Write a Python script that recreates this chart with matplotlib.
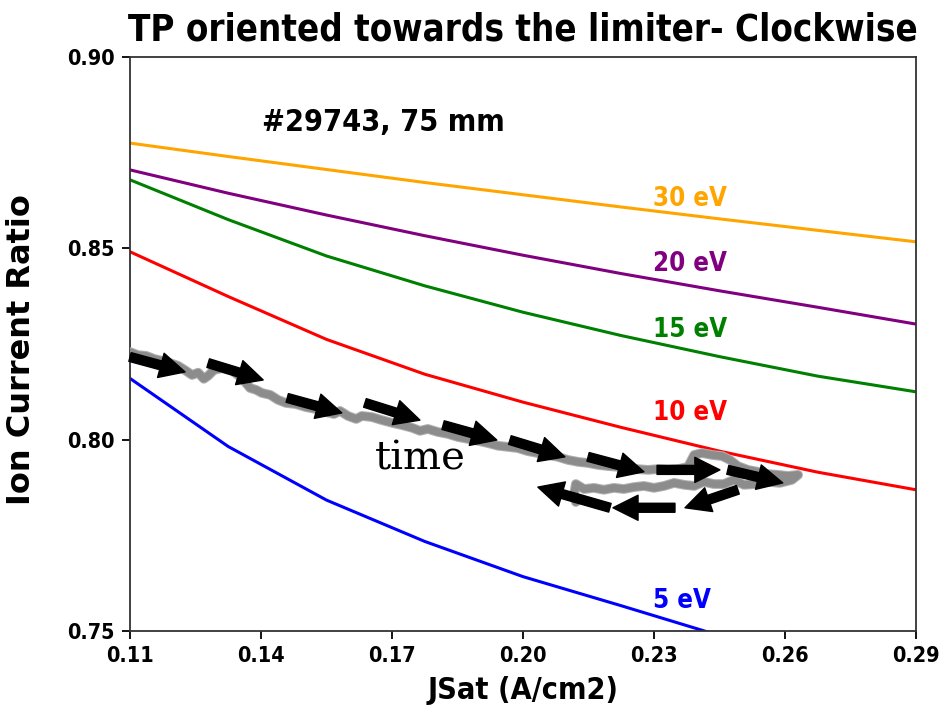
import numpy as np
import matplotlib
matplotlib.use('Agg')
from matplotlib import pyplot as plt

# model curves, sampled on the JSat grid
jsat = [0.11, 0.1325, 0.155, 0.1775, 0.20, 0.2225, 0.245, 0.2675, 0.29]
ratio_30 = [0.8775, 0.8740, 0.8706, 0.8672, 0.8640, 0.8608, 0.8577, 0.8547, 0.8517]
ratio_20 = [0.8705, 0.8644, 0.8587, 0.8533, 0.8482, 0.8434, 0.8389, 0.8346, 0.8302]
ratio_15 = [0.8679, 0.8575, 0.8480, 0.8402, 0.8333, 0.8272, 0.8217, 0.8166, 0.8125]
ratio_10 = [0.8491, 0.8374, 0.8262, 0.8171, 0.8098, 0.8032, 0.7970, 0.7915, 0.7869]
ratio_5 = [0.8160, 0.7982, 0.7842, 0.7734, 0.7642, 0.7566, 0.7488, 0.7420, 0.7360]

curve_labels = ['30 eV', '20 eV', '15 eV', '10 eV', '5 eV']
curve_colors = ['orange', 'purple', 'green', 'red', 'blue']
label_x = 0.2298
label_y = [0.8629, 0.8459, 0.8287, 0.8070, 0.7579]

# measured trace (shot #29743)
trace_x = [0.1100, 0.1118, 0.1137, 0.1155, 0.1173, 0.1192, 0.1210, 0.1228, 0.1242, 0.1256,
           0.1269, 0.1279, 0.1292, 0.1311, 0.1334, 0.1356, 0.1375, 0.1389, 0.1402, 0.1421,
           0.1439, 0.1457, 0.1480, 0.1503, 0.1526, 0.1549, 0.1567, 0.1581, 0.1599, 0.1618,
           0.1631, 0.1654, 0.1677, 0.1700, 0.1723, 0.1746, 0.1764, 0.1782, 0.1805, 0.1828,
           0.1851, 0.1874, 0.1897, 0.1920, 0.1943, 0.1966, 0.1988, 0.2011, 0.2034, 0.2057,
           0.2080, 0.2103, 0.2126, 0.2149, 0.2172, 0.2195, 0.2217, 0.2240, 0.2263, 0.2286,
           0.2309, 0.2332, 0.2355, 0.2378, 0.2392, 0.2410, 0.2433, 0.2456, 0.2474, 0.2492,
           0.2515, 0.2538, 0.2561, 0.2584, 0.2607, 0.2630, 0.2616,
           0.2588, 0.2561, 0.2533, 0.2506, 0.2483, 0.2460, 0.2437, 0.2414, 0.2392, 0.2369,
           0.2346, 0.2323, 0.2300, 0.2277, 0.2254, 0.2231, 0.2208, 0.2185, 0.2163, 0.2140,
           0.2121, 0.2117, 0.2121]
trace_y = [0.8229, 0.8221, 0.8219, 0.8211, 0.8206, 0.8200, 0.8193, 0.8180, 0.8169, 0.8175,
           0.8159, 0.8167, 0.8182, 0.8187, 0.8180, 0.8161, 0.8135, 0.8130, 0.8122, 0.8117,
           0.8104, 0.8096, 0.8093, 0.8085, 0.8080, 0.8072, 0.8067, 0.8075, 0.8062, 0.8054,
           0.8062, 0.8059, 0.8051, 0.8044, 0.8038, 0.8031, 0.8023, 0.8028, 0.8020, 0.8015,
           0.8007, 0.8002, 0.7997, 0.7991, 0.7984, 0.7981, 0.7978, 0.7970, 0.7965, 0.7960,
           0.7955, 0.7947, 0.7942, 0.7939, 0.7934, 0.7931, 0.7929, 0.7923, 0.7923, 0.7921,
           0.7923, 0.7921, 0.7923, 0.7929, 0.7960, 0.7965, 0.7960, 0.7957, 0.7947, 0.7931,
           0.7921, 0.7916, 0.7910, 0.7908, 0.7905, 0.7908, 0.7895,
           0.7887, 0.7890, 0.7884, 0.7882, 0.7895, 0.7884, 0.7884, 0.7890, 0.7879, 0.7882,
           0.7887, 0.7879, 0.7874, 0.7879, 0.7876, 0.7871, 0.7874, 0.7869, 0.7874, 0.7871,
           0.7884, 0.7858, 0.7837]

# time arrows: (x0, y0, x1, y1)
arrows = [
    (0.1100, 0.8216, 0.1226, 0.8177),
    (0.1279, 0.8200, 0.1405, 0.8156),
    (0.1460, 0.8109, 0.1585, 0.8070),
    (0.1638, 0.8096, 0.1764, 0.8051),
    (0.1817, 0.8038, 0.1940, 0.7999),
    (0.1970, 0.7999, 0.2096, 0.7955),
    (0.2149, 0.7955, 0.2277, 0.7916),
    (0.2307, 0.7921, 0.2451, 0.7921),
    (0.2469, 0.7921, 0.2595, 0.7887),
    (0.2492, 0.7869, 0.2371, 0.7822),
    (0.2348, 0.7822, 0.2206, 0.7822),
    (0.2199, 0.7822, 0.2034, 0.7876),
]

xticks = [0.11, 0.14, 0.17, 0.20, 0.23, 0.26, 0.29]
yticks = [0.75, 0.80, 0.85, 0.90]

bold = dict(family='DejaVu Sans', fontstretch='condensed', fontweight='bold')

fig = plt.figure(figsize=(9.45, 7.18), dpi=100)
ax = fig.add_axes([0.1376, 0.1212, 0.8317, 0.7994])

curves = [ratio_30, ratio_20, ratio_15, ratio_10, ratio_5]
for vals, col in zip(curves, curve_colors):
    ax.plot(jsat, vals, color=col, lw=2.2, zorder=2)

# soft edge + core for the noisy gray trace
ax.plot(trace_x, trace_y, color='#b0b0b0', lw=7, solid_capstyle='round',
        solid_joinstyle='round', zorder=3)
ax.plot(trace_x, trace_y, color='#8c8c8c', lw=5.5, solid_capstyle='round',
        solid_joinstyle='round', zorder=3)

for x0, y0, x1, y1 in arrows:
    ax.annotate('', xy=(x1, y1), xytext=(x0, y0),
                arrowprops=dict(arrowstyle='simple,head_length=0.95,head_width=0.95,tail_width=0.34',
                                color='black', mutation_scale=19, shrinkA=0, shrinkB=0),
                zorder=4)

for lab, col, ly in zip(curve_labels, curve_colors, label_y):
    ax.text(label_x, ly, lab, color=col, fontsize=18.5, va='center', ha='left', **bold)

ax.text(0.1402, 0.8830, '#29743, 75 mm', fontsize=22, va='center', ha='left', **bold)
ax.text(0.1661, 0.7950, 'time', fontsize=29, va='center', ha='left', family='DejaVu Serif')

ax.set_xlim(0.11, 0.29)
ax.set_ylim(0.75, 0.90)
ax.set_xticks(xticks)
ax.set_xticklabels(['%.2f' % t for t in xticks])
ax.set_yticks(yticks)
ax.set_yticklabels(['%.2f' % t for t in yticks])
ax.tick_params(length=6, width=1.3, pad=5, labelsize=15.5)
for lab in ax.get_xticklabels() + ax.get_yticklabels():
    lab.set_fontweight('bold')
    lab.set_fontstretch('condensed')
for sp in ax.spines.values():
    sp.set_linewidth(1.3)
    sp.set_color('#333333')

ax.set_xlabel('JSat (A/cm2)', fontsize=22, labelpad=7, **bold)
ax.set_ylabel('Ion Current Ratio', fontsize=23, family='DejaVu Sans', fontweight='bold')
ax.yaxis.set_label_coords(-0.1183, 0.4895)
ax.set_title('TP oriented towards the limiter- Clockwise', fontsize=26.3, pad=12, **bold)

plt.savefig('out.png', dpi=100)
